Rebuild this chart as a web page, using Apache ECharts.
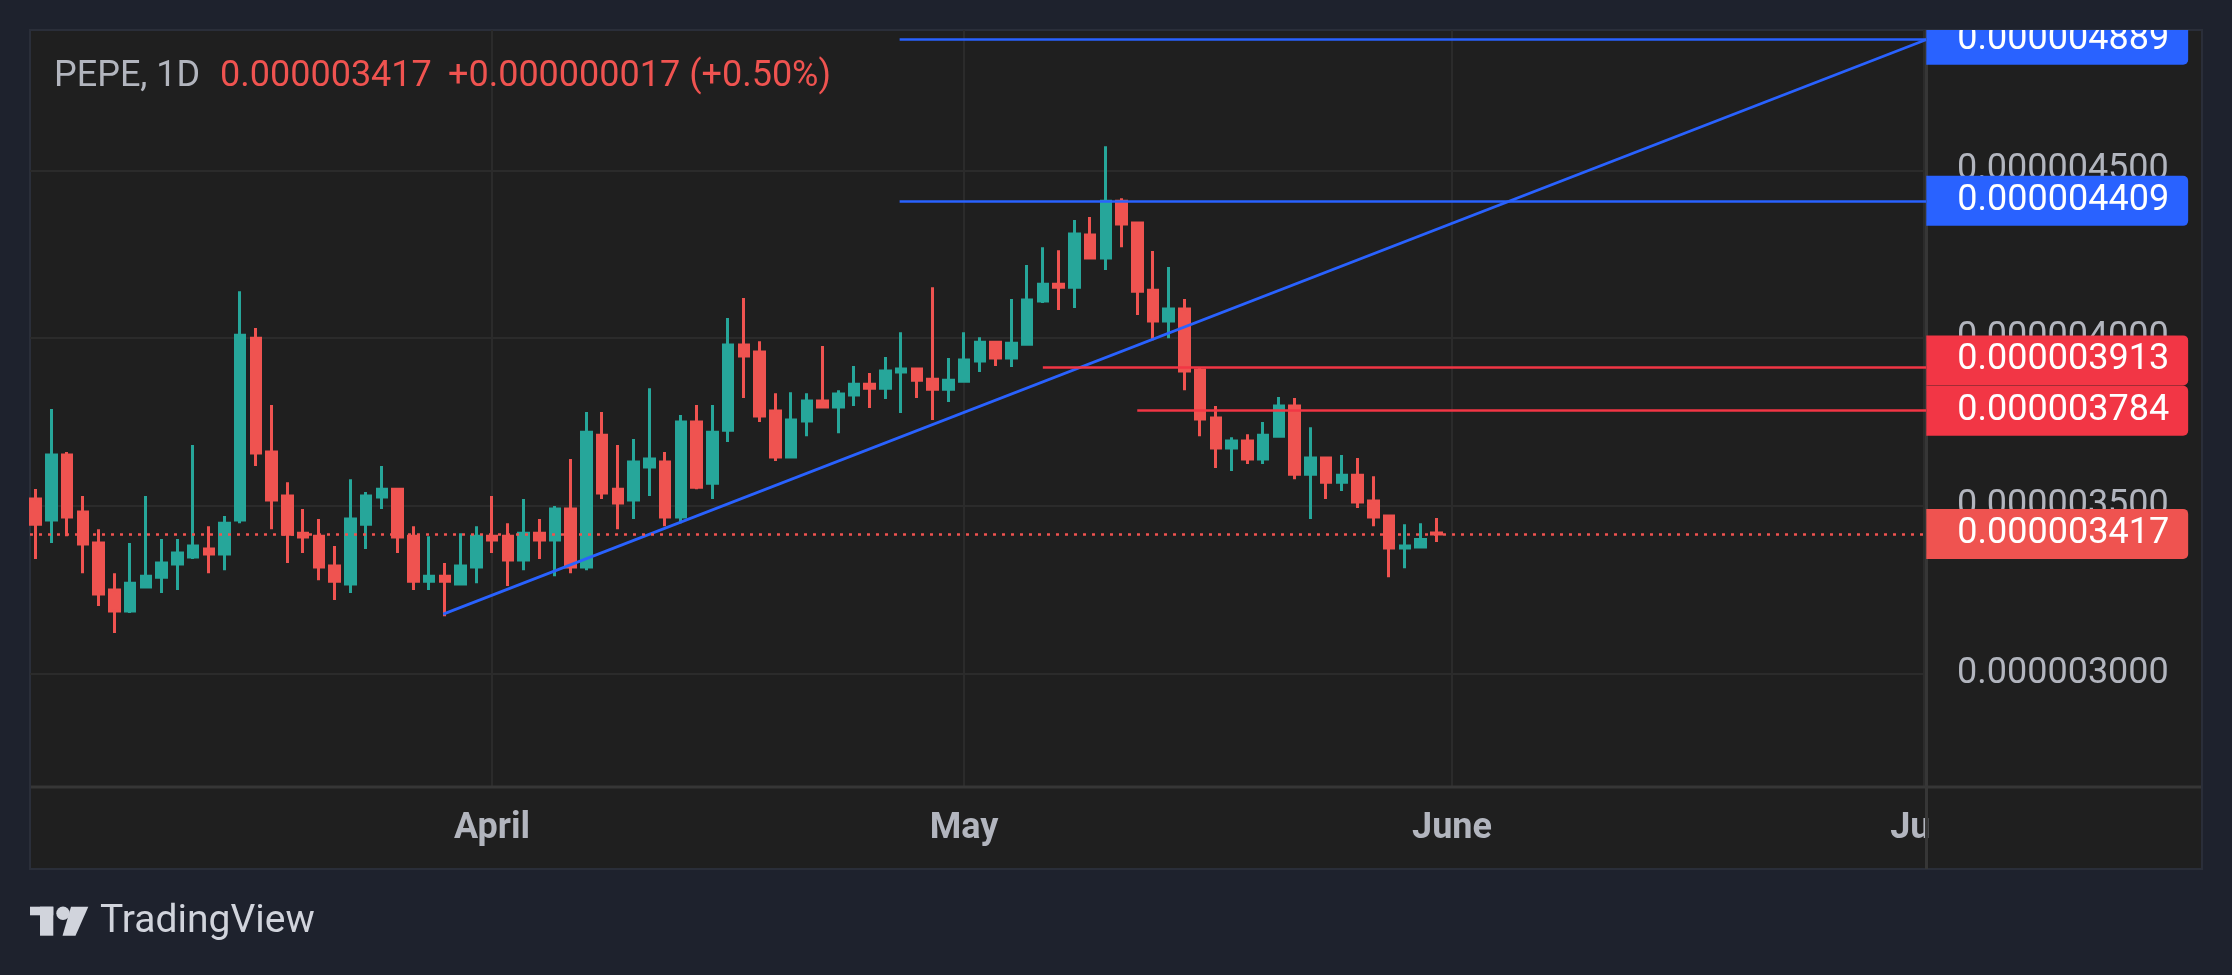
<!DOCTYPE html>
<html>
<head>
<meta charset="utf-8">
<script src="https://cdn.jsdelivr.net/npm/echarts@6/dist/echarts.min.js"></script>
<style>
html,body{margin:0;padding:0;background:#1e222d;width:2232px;height:975px;overflow:hidden}
#panel{position:absolute;left:29px;top:29px;width:2174px;height:841px;box-sizing:border-box;border:2px solid #2a2e39;background:#1f1f1f}
#chart{position:absolute;left:0;top:30px;width:2232px;height:945px}
</style>
</head>
<body>
<div id="panel"></div>
<div id="chart"></div>
<script>
// Prices are in units of 1e-9 (0.000003417 -> 3417)
const SYMBOL = 'PEPE, 1D';
const open  = [3521,3458,3652,3482,3390,3250,3187,3259,3288,3327,3348,3372,3357,3458,4000,3661,3530,3419,3410,3321,3268,3446,3527,3550,3410,3276,3291,3268,3318,3410,3410,3339,3419,3399,3491,3318,3711,3550,3518,3616,3631,3467,3750,3568,3726,3980,3959,3783,3646,3753,3813,3795,3831,3863,3851,3899,3908,3878,3848,3872,3932,3988,3941,3982,4111,4161,4152,4307,4239,4408,4343,4143,4051,4087,3905,3762,3673,3694,3640,3708,3798,3595,3643,3571,3592,3515,3470,3375,3378,3420];
const close = [3446,3652,3467,3387,3238,3187,3270,3291,3330,3360,3381,3357,3449,4009,3658,3518,3416,3408,3318,3276,3461,3530,3550,3408,3276,3291,3276,3321,3410,3399,3339,3419,3399,3491,3318,3720,3539,3509,3631,3640,3467,3750,3556,3720,3980,3947,3768,3646,3756,3813,3795,3834,3863,3851,3902,3908,3875,3848,3875,3935,3988,3941,3985,4114,4161,4152,4310,4239,4408,4340,4140,4051,4087,3902,3759,3673,3694,3640,3711,3798,3595,3643,3571,3592,3512,3467,3375,3381,3400,3417];
const low   = [3342,3390,3410,3300,3202,3122,3181,3259,3241,3250,3342,3300,3309,3449,3619,3431,3330,3360,3279,3220,3241,3372,3491,3360,3250,3250,3172,3265,3270,3360,3262,3309,3342,3291,3300,3309,3521,3431,3461,3530,3440,3449,3550,3521,3691,3822,3750,3634,3643,3708,3792,3717,3798,3792,3819,3777,3822,3756,3810,3870,3899,3917,3914,3980,4105,4084,4090,4236,4203,4271,4069,3994,4000,3845,3708,3613,3604,3625,3625,3706,3580,3461,3521,3545,3494,3440,3288,3315,3376,3393];
const high  = [3551,3789,3661,3530,3431,3300,3390,3530,3402,3402,3682,3440,3470,4140,4030,3801,3571,3491,3461,3381,3580,3542,3619,3552,3440,3410,3330,3419,3440,3530,3449,3521,3461,3500,3640,3780,3780,3682,3700,3851,3661,3771,3801,3801,4060,4120,3991,3836,3839,3836,3977,3845,3917,3896,3944,4018,3910,4152,3941,4018,4003,3991,4117,4218,4271,4262,4352,4361,4572,4417,4345,4260,4212,4117,3914,3798,3705,3714,3750,3825,3822,3735,3645,3652,3643,3589,3472,3446,3449,3464];

// x = day number counted from 3 March (first candle)
const monthTicks  = [29, 59, 90, 120];
const monthLabels = ['April', 'May', 'June', 'July'];
const priceTicks  = [3000, 3500, 4000, 4500];

const lastPrice = 3417;
const prevClose = 3400;
// drawings: horizontal levels [price, start day] and a trend line
const blueLevels = [[4889, 54.9], [4409, 54.9]];
const redLevels  = [[3913, 64.0], [3784, 70.0]];
const trendLine  = [[25.9, 3178], [120.12, 4889]];

const X_MIN = -0.36, X_MAX = 120.12;
const Y_MIN = 2666, Y_MAX = 4918;

const fmt = v => (v * 1e-9).toFixed(9);
const rows = open.map((o, i) => [i, o, close[i], low[i], high[i]]);

const chg = lastPrice - prevClose;
const chgPct = (chg / prevClose * 100).toFixed(2);

function line(x0, v, color, dash, width) {
  return [
    { coord: [x0, v], lineStyle: { color: color, width: width, type: dash } },
    { coord: [X_MAX, v] }
  ];
}
function box(v, bg, dy) {
  return {
    coord: [X_MAX - 0.01, v], value: v,
    label: {
      show: true, position: 'right', distance: 0, offset: [0, dy || 0],
      formatter: p => fmt(p.value),
      backgroundColor: bg, color: '#ffffff',
      fontFamily: 'Roboto', fontSize: 36, lineHeight: 34,
      padding: [8, 19, 8, 31], borderRadius: [0, 5, 5, 0]
    }
  };
}

const mlData = [];
mlData.push([
  { coord: trendLine[0], lineStyle: { color: '#2962ff', width: 2.7, type: 'solid' } },
  { coord: trendLine[1] }
]);
blueLevels.forEach(l => mlData.push(line(l[1], l[0], '#2962ff', 'solid', 2.7)));
mlData.push(line(X_MIN, lastPrice, '#ef5350', [3, 6], 2.5));
redLevels.forEach(l => mlData.push(line(l[1], l[0], '#f23645', 'solid', 2.7)));

const mpData = [
  box(blueLevels[0][0], '#2962ff'),
  box(blueLevels[1][0], '#2962ff'),
  box(lastPrice, '#ef5350'),
  box(redLevels[0][0], '#f23645', -7),
  box(redLevels[1][0], '#f23645')
];

const chart = echarts.init(document.getElementById('chart'), null, { renderer: 'canvas' });
chart.setOption({
  backgroundColor: 'transparent',
  animation: false,
  grid: { left: 30, top: 0, width: 1896, height: 756, containLabel: false },
  xAxis: {
    type: 'value', min: X_MIN, max: X_MAX, position: 'bottom',
    axisLine: { show: false },
    axisTick: { show: false, customValues: monthTicks },
    axisLabel: {
      customValues: monthTicks,
      formatter: v => monthLabels[monthTicks.indexOf(Math.round(v))] || '',
      color: '#b2b5be', fontFamily: 'Roboto', fontWeight: 'bold', fontSize: 36, lineHeight: 36, margin: 25
    },
    splitLine: { show: true, lineStyle: { color: '#2b2b2b', width: 2 } }
  },
  yAxis: {
    type: 'value', position: 'right', min: Y_MIN, max: Y_MAX, scale: true,
    axisLine: { show: false },
    axisTick: { show: false, customValues: priceTicks },
    axisLabel: {
      customValues: priceTicks, formatter: v => fmt(v),
      color: '#b2b5be', fontFamily: 'Roboto', fontSize: 36, margin: 31
    },
    splitLine: { show: true, lineStyle: { color: '#2b2b2b', width: 2 } }
  },
  series: [{
    type: 'candlestick',
    data: rows,
    barWidth: 10,
    itemStyle: { color: '#26a69a', color0: '#ef5350', borderColor: '#26a69a', borderColor0: '#ef5350', borderWidth: 3 },
    markLine: { symbol: ['none', 'none'], silent: true, animation: false, label: { show: false }, data: mlData },
    markPoint: { symbol: 'rect', symbolSize: 1, silent: true, animation: false,
      itemStyle: { color: 'rgba(0,0,0,0)' }, data: mpData }
  }],
  graphic: [
    { type: 'rect', z: 3, silent: true, shape: { x: 1925, y: 0, width: 3, height: 839 }, style: { fill: '#363636' } },
    { type: 'rect', z: 3, silent: true, shape: { x: 31, y: 755.5, width: 2170, height: 3 }, style: { fill: '#363636' } },
    { type: 'rect', z: 100, silent: true, shape: { x: 1928.5, y: 759, width: 272.5, height: 79 }, style: { fill: '#1f1f1f' } },
    { type: 'text', z: 10, x: 54, y: 46.5, style: { text: SYMBOL, fill: '#b2b5be', font: '36px Roboto', verticalAlign: 'middle' } },
    { type: 'text', z: 10, x: 220, y: 46.5, style: { text: fmt(lastPrice), fill: '#ef5350', font: '36px Roboto', verticalAlign: 'middle' } },
    { type: 'text', z: 10, x: 448, y: 46.5, style: { text: '+' + fmt(chg) + ' (+' + chgPct + '%)', fill: '#ef5350', font: '36px Roboto', verticalAlign: 'middle' } },
    { type: 'rect', z: 10, silent: true, shape: { x: 30, y: 876.7, width: 23.3, height: 8.6 }, style: { fill: '#d1d4dc' } },
    { type: 'rect', z: 10, silent: true, shape: { x: 40, y: 876.7, width: 13.3, height: 29 }, style: { fill: '#d1d4dc' } },
    { type: 'circle', z: 10, silent: true, shape: { cx: 63, cy: 883.3, r: 6.7 }, style: { fill: '#d1d4dc' } },
    { type: 'polygon', z: 10, silent: true, shape: { points: [[71, 876.7], [88.3, 876.7], [75.5, 905.7], [62.5, 905.7]] }, style: { fill: '#d1d4dc' } },
    { type: 'text', z: 10, x: 100, y: 892.3, style: { text: 'TradingView', fill: '#d1d4dc', font: '39px Roboto', verticalAlign: 'middle' } }
  ]
});
</script>
</body>
</html>
